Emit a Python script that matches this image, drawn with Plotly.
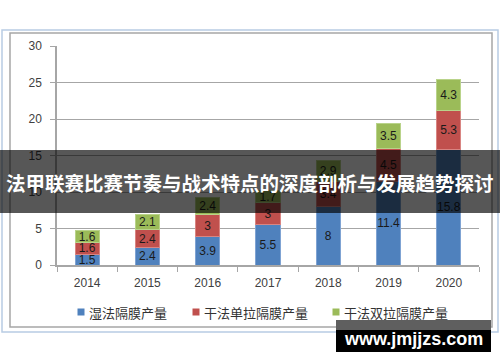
import plotly.graph_objects as go

years = ["2014", "2015", "2016", "2017", "2018", "2019", "2020"]
series_names = ["湿法隔膜产量", "干法单拉隔膜产量", "干法双拉隔膜产量"]
wet = [1.5, 2.4, 3.9, 5.5, 8, 11.4, 15.8]
dry_single = [1.6, 2.4, 3, 3, 3.4, 4.5, 5.3]
dry_double = [1.6, 2.1, 2.4, 1.7, 2.9, 3.5, 4.3]
y_ticks = [0, 5, 10, 15, 20, 25, 30]
title_text = "法甲联赛比赛节奏与战术特点的深度剖析与发展趋势探讨"
watermark = "www.jmjjzs.com"

colors = ["#4F81BD", "#C0504D", "#9BBB59"]
edge = ["#7FA3D3", "#D98582", "#B9D38A"]

W, H = 500, 362
L, R, T, B = 57, 21, 46, 97
PW, PH = W - L - R, H - T - B


def px(x):
    return (x - L) / PW


def py(y):
    return (H - B - y) / PH


fig = go.Figure()
for name, vals, c, e in zip(series_names, [wet, dry_single, dry_double], colors, edge):
    fig.add_trace(go.Bar(
        x=years, y=vals, name=name,
        marker=dict(color=c, line=dict(color=e, width=1)),
        text=[f"{v:g}" for v in vals], textposition="inside", textangle=0,
        insidetextanchor="middle", constraintext="none",
        textfont=dict(family="Liberation Sans", size=12, color="#1a1a1a"),
        showlegend=False, cliponaxis=False, hoverinfo="skip",
    ))

shapes = []
annotations = []

# outer borders
shapes.append(dict(type="rect", xref="paper", yref="paper",
                   x0=px(2), x1=px(498), y0=py(332), y1=py(30),
                   line=dict(color="#B8CCE4", width=1.5), layer="below"))
shapes.append(dict(type="rect", xref="paper", yref="paper",
                   x0=px(10), x1=px(492), y0=py(327), y1=py(33),
                   line=dict(color="#A6A6A6", width=1.5), layer="below"))

# manual legend
leg_x = [81, 196, 336]
for name, c, xm in zip(series_names, colors, leg_x):
    shapes.append(dict(type="rect", xref="paper", yref="paper",
                       x0=px(xm - 3.5), x1=px(xm + 3.5), y0=py(315.5), y1=py(308.5),
                       line=dict(width=0), fillcolor=c))
    annotations.append(dict(xref="paper", yref="paper", x=px(xm + 6), y=py(312),
                            text=name, showarrow=False, xanchor="left", yanchor="middle",
                            font=dict(family="Noto Sans CJK SC", size=13, color="#333333")))

# banner overlay
shapes.append(dict(type="rect", xref="paper", yref="paper",
                   x0=px(0), x1=px(500), y0=py(213), y1=py(150),
                   line=dict(width=0), fillcolor="rgba(0,0,0,0.66)", layer="above"))
annotations.append(dict(xref="paper", yref="paper", x=px(250), y=py(182),
                        text="<b>" + title_text + "</b>", showarrow=False,
                        xanchor="center", yanchor="middle",
                        font=dict(family="Noto Sans CJK SC", size=19.5, color="white")))

# watermark
shapes.append(dict(type="rect", xref="paper", yref="paper",
                   x0=px(336), x1=px(491), y0=py(330), y1=py(320),
                   line=dict(width=0), fillcolor="#5f5f5f", layer="above"))
shapes.append(dict(type="rect", xref="paper", yref="paper",
                   x0=px(336), x1=px(491), y0=py(352), y1=py(330),
                   line=dict(width=0), fillcolor="#000000", layer="above"))
annotations.append(dict(xref="paper", yref="paper", x=px(413), y=py(339),
                        text="<b>" + watermark + "</b>", showarrow=False,
                        xanchor="center", yanchor="middle",
                        font=dict(family="Liberation Sans", size=18, color="white")))

fig.update_layout(
    width=W, height=H, barmode="stack", bargap=0.6,
    margin=dict(l=L, r=R, t=T, b=B, autoexpand=False),
    paper_bgcolor="white", plot_bgcolor="white",
    shapes=shapes, annotations=annotations,
    uniformtext=dict(minsize=12, mode="show"),
    xaxis=dict(type="category", showline=True, linecolor="#A6A6A6", linewidth=1.5,
               ticks="outside", tickson="boundaries", ticklen=5, tickcolor="#A6A6A6",
               tickfont=dict(family="Liberation Sans", size=12, color="#404040"),
               ticklabelstandoff=6, showgrid=False, automargin=False),
    yaxis=dict(range=[0, 30], tickvals=y_ticks, showline=True, linecolor="#A6A6A6",
               linewidth=1.5, ticks="outside", ticklen=5, tickcolor="#A6A6A6",
               tickfont=dict(family="Liberation Sans", size=12, color="#404040"),
               ticklabelstandoff=6, showgrid=True, gridcolor="#A6A6A6", gridwidth=1,
               zeroline=False, automargin=False),
)

fig.write_html("out.html", config={"displayModeBar": False},
               post_script="document.body.style.margin='0';document.body.style.overflow='hidden';")
